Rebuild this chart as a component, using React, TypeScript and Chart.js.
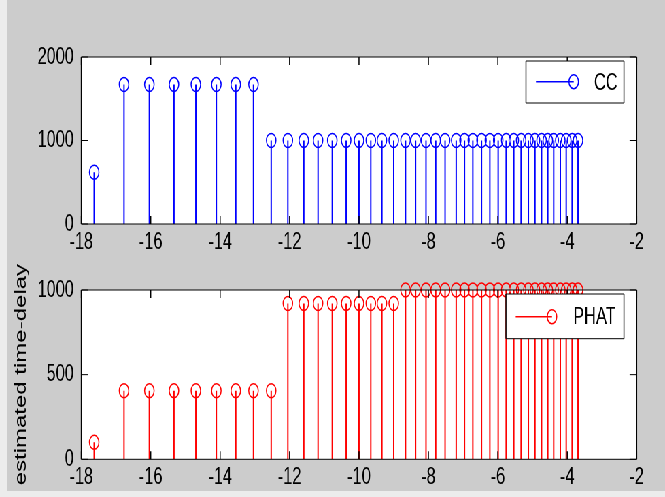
import React, { useEffect, useRef } from 'react';
import { Chart, registerables } from 'chart.js';

Chart.register(...registerables);

// ---- data ----
const xValues = [
  -17.63, -16.77, -16.04, -15.33, -14.70, -14.11, -13.55, -13.04, -12.53, -12.05,
  -11.59, -11.18, -10.77, -10.37, -10.00, -9.66, -9.34, -9.00, -8.66, -8.37,
  -8.07, -7.79, -7.52, -7.20, -6.96, -6.72, -6.47, -6.23, -5.99, -5.76,
  -5.54, -5.33, -5.12, -4.93, -4.74, -4.56, -4.39, -4.20, -4.03, -3.86, -3.69,
];
const ccValues = [
  620, 1670, 1670, 1670, 1670, 1670, 1670, 1670, 1000, 1000,
  1000, 1000, 1000, 1000, 1000, 1000, 1000, 1000, 1000, 1000,
  1000, 1000, 1000, 1000, 1000, 1000, 1000, 1000, 1000, 1000,
  1000, 1000, 1000, 1000, 1000, 1000, 1000, 1000, 1000, 1000, 1000,
];
const phatValues = [
  100, 405, 405, 405, 405, 405, 405, 405, 405, 920,
  920, 920, 920, 920, 920, 920, 920, 920, 1000, 1000,
  1000, 1000, 1000, 1000, 1000, 1000, 1000, 1000, 1000, 1000,
  1000, 1000, 1000, 1000, 1000, 1000, 1000, 1000, 1000, 1000, 1000,
];
const xTicks = [-18, -16, -14, -12, -10, -8, -6, -4, -2];
const ccYTicks = [0, 1000, 2000];
const phatYTicks = [0, 500, 1000];
const ccLabel = 'CC';
const phatLabel = 'PHAT';
const yTitle = 'estimated time-delay';

// ---- layout / style ----
const S = 0.68; // horizontal squeeze of the whole figure
const W = 978;
const FONT = "'Liberation Sans', Arial, Helvetica, sans-serif";
const PLOT_LEFT = 119.6;
const PLOT_RIGHT_PAD = 41.7;
const TICK_LEN = 8;

type LegendSpec = {
  label: string;
  x1: number; x2: number; y1: number; y2: number;
  lx1: number; lx2: number; ly: number; tx: number; ty: number;
};

function framePlugin(color: string, yTicks: number[], legend: LegendSpec) {
  return {
    id: 'frame',
    beforeDraw(chart: any) {
      const { ctx, chartArea: a } = chart;
      ctx.save();
      ctx.fillStyle = '#ffffff';
      ctx.fillRect(a.left, a.top, a.right - a.left, a.bottom - a.top);
      ctx.restore();
    },
    afterDatasetsDraw(chart: any) {
      const { ctx, chartArea: a, scales } = chart;
      ctx.save();
      ctx.strokeStyle = '#000000';
      // horizontal border lines
      ctx.lineWidth = 1;
      ctx.beginPath();
      ctx.moveTo(a.left, a.top); ctx.lineTo(a.right, a.top);
      ctx.moveTo(a.left, a.bottom); ctx.lineTo(a.right, a.bottom);
      ctx.stroke();
      // vertical border lines
      ctx.lineWidth = 1.5;
      ctx.beginPath();
      ctx.moveTo(a.left, a.top); ctx.lineTo(a.left, a.bottom);
      ctx.moveTo(a.right, a.top); ctx.lineTo(a.right, a.bottom);
      ctx.stroke();
      // inward x tick marks (top and bottom)
      ctx.lineWidth = 1.5;
      ctx.beginPath();
      xTicks.forEach((v) => {
        const px = scales.x.getPixelForValue(v);
        ctx.moveTo(px, a.bottom); ctx.lineTo(px, a.bottom - TICK_LEN);
        ctx.moveTo(px, a.top); ctx.lineTo(px, a.top + TICK_LEN);
      });
      ctx.stroke();
      // inward y tick marks (left and right)
      ctx.lineWidth = 1;
      ctx.beginPath();
      yTicks.forEach((v) => {
        const py = scales.y.getPixelForValue(v);
        ctx.moveTo(a.left, py); ctx.lineTo(a.left + TICK_LEN * 1.3, py);
        ctx.moveTo(a.right, py); ctx.lineTo(a.right - TICK_LEN * 1.3, py);
      });
      ctx.stroke();
      // legend
      const L = legend;
      ctx.fillStyle = '#ffffff';
      ctx.fillRect(L.x1, L.y1, L.x2 - L.x1, L.y2 - L.y1);
      ctx.strokeStyle = '#000000';
      ctx.lineWidth = 1;
      ctx.beginPath();
      ctx.moveTo(L.x1, L.y1); ctx.lineTo(L.x2, L.y1);
      ctx.moveTo(L.x1, L.y2); ctx.lineTo(L.x2, L.y2);
      ctx.stroke();
      ctx.lineWidth = 1.5;
      ctx.beginPath();
      ctx.moveTo(L.x1, L.y1); ctx.lineTo(L.x1, L.y2);
      ctx.moveTo(L.x2, L.y1); ctx.lineTo(L.x2, L.y2);
      ctx.stroke();
      ctx.strokeStyle = color;
      ctx.lineWidth = 1.5;
      ctx.beginPath();
      ctx.moveTo(L.lx1, L.ly); ctx.lineTo(L.lx2, L.ly);
      ctx.stroke();
      ctx.beginPath();
      ctx.arc(L.lx2, L.ly, 7, 0, Math.PI * 2);
      ctx.stroke();
      ctx.fillStyle = '#000000';
      ctx.font = `24px ${FONT}`;
      ctx.textAlign = 'left';
      ctx.textBaseline = 'middle';
      ctx.fillText(L.label, L.tx, L.ty);
      ctx.restore();
    },
  };
}

function makeConfig(opts: {
  values: number[]; color: string; yTicks: number[]; padTop: number; xAxisH: number;
  legend: LegendSpec; title?: string;
}) {
  const { values, color, yTicks, padTop, xAxisH, legend, title } = opts;
  const stemData: any[] = [];
  xValues.forEach((x, i) => {
    stemData.push({ x, y: 0 }, { x, y: values[i] }, { x, y: null });
  });
  const markerData = xValues.map((x, i) => ({ x, y: values[i] }));
  return {
    type: 'scatter',
    data: {
      datasets: [
        {
          data: stemData,
          showLine: true,
          spanGaps: false,
          borderColor: color,
          borderWidth: 2,
          pointRadius: 0,
          fill: false,
          tension: 0,
        },
        {
          data: markerData,
          showLine: false,
          pointStyle: 'circle',
          pointRadius: 7,
          pointBorderWidth: 1.5,
          borderColor: color,
          backgroundColor: 'rgba(0,0,0,0)',
          clip: false,
        },
      ],
    },
    options: {
      animation: false,
      responsive: false,
      devicePixelRatio: 1,
      events: [],
      layout: {
        autoPadding: false,
        padding: { left: 0, right: PLOT_RIGHT_PAD, top: padTop, bottom: 0 },
      },
      plugins: { legend: { display: false }, tooltip: { enabled: false }, title: { display: false } },
      scales: {
        x: {
          type: 'linear',
          min: xTicks[0],
          max: xTicks[xTicks.length - 1],
          grid: { display: false, drawTicks: false },
          border: { display: false },
          afterBuildTicks: (s: any) => { s.ticks = xTicks.map((v) => ({ value: v })); },
          afterFit: (s: any) => { s.height = xAxisH; },
          ticks: {
            color: '#000000',
            padding: 4,
            maxRotation: 0,
            autoSkip: false,
            font: { family: FONT, size: 24 },
            callback: (v: any) => String(v),
          },
        },
        y: {
          type: 'linear',
          min: yTicks[0],
          max: yTicks[yTicks.length - 1],
          grid: { display: false, drawTicks: false },
          border: { display: false },
          afterBuildTicks: (s: any) => { s.ticks = yTicks.map((v) => ({ value: v })); },
          afterFit: (s: any) => { s.width = PLOT_LEFT; },
          title: title
            ? {
                display: true,
                text: title,
                color: '#000000',
                font: { family: FONT, size: 24 },
                padding: { top: 16.5, bottom: 0 },
              }
            : { display: false },
          ticks: {
            color: '#000000',
            padding: 11,
            autoSkip: false,
            font: { family: FONT, size: 24 },
            callback: (v: any) => String(v),
          },
        },
      },
    },
    plugins: [framePlugin(color, yTicks, legend)],
  } as any;
}

export default function App() {
  const topRef = useRef<HTMLCanvasElement | null>(null);
  const botRef = useRef<HTMLCanvasElement | null>(null);

  useEffect(() => {
    const top = new Chart(
      topRef.current as HTMLCanvasElement,
      makeConfig({
        values: ccValues,
        color: '#0000ff',
        yTicks: ccYTicks,
        padTop: 57,
        xAxisH: 36,
        legend: {
          label: ccLabel,
          x1: 773.5, x2: 917.6, y1: 61, y2: 103,
          lx1: 788.2, lx2: 843.7, ly: 81.7, tx: 873.5, ty: 83,
        },
      })
    );
    const bot = new Chart(
      botRef.current as HTMLCanvasElement,
      makeConfig({
        values: phatValues,
        color: '#ff0000',
        yTicks: phatYTicks,
        padTop: 30,
        xAxisH: 37.7,
        title: yTitle,
        legend: {
          label: phatLabel,
          x1: 744.1, x2: 917.6, y1: 34, y2: 78.7,
          lx1: 758.4, lx2: 811.8, ly: 56.7, tx: 843.1, ty: 57,
        },
      })
    );
    return () => {
      top.destroy();
      bot.destroy();
    };
  }, []);

  return (
    <div
      style={{
        position: 'fixed', left: 0, top: 0, width: 665, height: 497,
        overflow: 'hidden', background: '#ececec',
      }}
    >
      <div style={{ position: 'absolute', left: 7, top: 0, width: 658, height: 491, background: '#cccccc' }} />
      <div
        style={{
          position: 'absolute', left: 0, top: 0, width: W, height: 497,
          transform: `scaleX(${S})`, transformOrigin: '0 0',
        }}
      >
        <canvas
          ref={topRef}
          width={W}
          height={260}
          style={{ position: 'absolute', left: 0, top: 0, width: W, height: 260 }}
        />
        <canvas
          ref={botRef}
          width={W}
          height={237}
          style={{ position: 'absolute', left: 0, top: 260, width: W, height: 237 }}
        />
      </div>
    </div>
  );
}
